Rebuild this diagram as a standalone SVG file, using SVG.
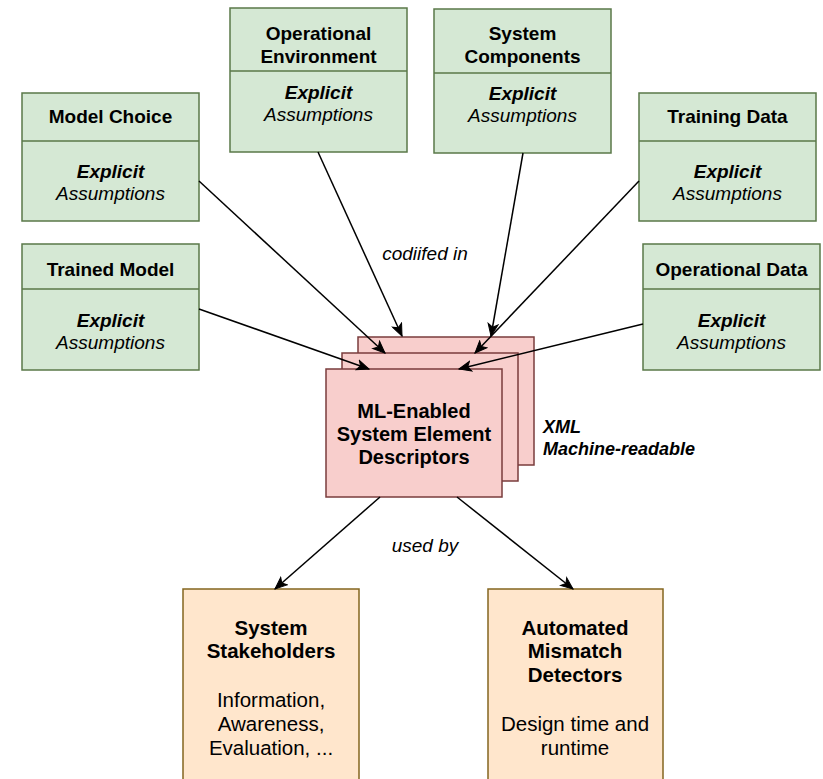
<svg xmlns="http://www.w3.org/2000/svg" width="823" height="779" viewBox="0 0 823 779">
  <style>
    text { font-family: "Liberation Sans", Arial, Helvetica, sans-serif; fill: #000; text-anchor: middle; }
    .green { fill: #d5e8d4; stroke: #5a7848; stroke-width: 1.5; }
    .pink { fill: #f8cecc; stroke: #7a3c3c; stroke-width: 1.5; }
    .orange { fill: #ffe6cc; stroke: #84661f; stroke-width: 1.5; }
    .hdr { font-size: 19px; font-weight: bold; }
    .exp { font-size: 19px; font-weight: bold; font-style: italic; }
    .asm { font-size: 19px; font-style: italic; }
    .title { font-size: 20.5px; font-weight: bold; }
    .body { font-size: 20.5px; }
    .lbl { font-size: 19px; font-style: italic; }
    .edge { fill: none; stroke: #000; stroke-width: 1.5; marker-end: url(#arrow); }
  </style>
  <defs>
    <marker id="arrow" markerUnits="userSpaceOnUse" markerWidth="14" markerHeight="12" refX="13" refY="6" orient="auto">
      <path d="M1,1 L13,6 L1,11 L4,6 Z" fill="#000" stroke="#000" stroke-width="1"/>
    </marker>
  </defs>

  <rect width="823" height="779" fill="#fff"/>

  <!-- assumption sources -->
  <g id="model-choice">
    <rect class="green" x="22" y="93" width="177" height="128"/>
    <line class="green" x1="22" y1="141" x2="199" y2="141"/>
    <text class="hdr" x="110.5" y="123">Model Choice</text>
    <text class="exp" x="110.5" y="178">Explicit</text>
    <text class="asm" x="110.5" y="200">Assumptions</text>
  </g>

  <g id="trained-model">
    <rect class="green" x="22" y="244" width="177" height="126"/>
    <line class="green" x1="22" y1="289" x2="199" y2="289"/>
    <text class="hdr" x="110.5" y="276">Trained Model</text>
    <text class="exp" x="110.5" y="327">Explicit</text>
    <text class="asm" x="110.5" y="349">Assumptions</text>
  </g>

  <g id="operational-environment">
    <rect class="green" x="230" y="8" width="177" height="144"/>
    <line class="green" x1="230" y1="71" x2="407" y2="71"/>
    <text class="hdr" x="318.5" y="40">Operational</text>
    <text class="hdr" x="318.5" y="63">Environment</text>
    <text class="exp" x="318.5" y="99">Explicit</text>
    <text class="asm" x="318.5" y="121">Assumptions</text>
  </g>

  <g id="system-components">
    <rect class="green" x="434" y="9" width="177" height="144"/>
    <line class="green" x1="434" y1="73" x2="611" y2="73"/>
    <text class="hdr" x="522.5" y="40">System</text>
    <text class="hdr" x="522.5" y="63">Components</text>
    <text class="exp" x="522.5" y="100">Explicit</text>
    <text class="asm" x="522.5" y="122">Assumptions</text>
  </g>

  <g id="training-data">
    <rect class="green" x="639" y="93" width="177" height="128"/>
    <line class="green" x1="639" y1="141" x2="816" y2="141"/>
    <text class="hdr" x="727.5" y="123">Training Data</text>
    <text class="exp" x="727.5" y="178">Explicit</text>
    <text class="asm" x="727.5" y="200">Assumptions</text>
  </g>

  <g id="operational-data">
    <rect class="green" x="643" y="244" width="177" height="126"/>
    <line class="green" x1="643" y1="289" x2="820" y2="289"/>
    <text class="hdr" x="731.5" y="276">Operational Data</text>
    <text class="exp" x="731.5" y="327">Explicit</text>
    <text class="asm" x="731.5" y="349">Assumptions</text>
  </g>

  <!-- stacked descriptor documents -->
  <g id="descriptors">
    <rect class="pink" x="358" y="337" width="176" height="128"/>
    <rect class="pink" x="342" y="353" width="176" height="128"/>
    <rect class="pink" x="326" y="369" width="176" height="128"/>
    <text class="title" x="414" y="418" style="font-size:20px">ML-Enabled</text>
    <text class="title" x="414" y="441" style="font-size:20px">System Element</text>
    <text class="title" x="414" y="464" style="font-size:20px">Descriptors</text>
  </g>

  <g id="format-note">
    <text x="543" y="433" style="font-size:18px;font-weight:bold;font-style:italic;text-anchor:start">XML</text>
    <text x="543" y="455" style="font-size:18px;font-weight:bold;font-style:italic;text-anchor:start">Machine-readable</text>
  </g>

  <!-- consumers -->
  <g id="system-stakeholders">
    <rect class="orange" x="183" y="589" width="176" height="200"/>
    <text class="title" x="271" y="635">System</text>
    <text class="title" x="271" y="658">Stakeholders</text>
    <text class="body" x="271" y="707">Information,</text>
    <text class="body" x="271" y="731">Awareness,</text>
    <text class="body" x="271" y="755">Evaluation, ...</text>
  </g>

  <g id="mismatch-detectors">
    <rect class="orange" x="488" y="589" width="175" height="200"/>
    <text class="title" x="575" y="635">Automated</text>
    <text class="title" x="575" y="658">Mismatch</text>
    <text class="title" x="575" y="682">Detectors</text>
    <text class="body" x="575" y="731">Design time and</text>
    <text class="body" x="575" y="755">runtime</text>
  </g>

  <!-- connectors, drawn over the document stack -->
  <g id="connectors">
    <line class="edge" x1="199" y1="181" x2="385" y2="353"/>
    <line class="edge" x1="199" y1="309" x2="369" y2="369"/>
    <line class="edge" x1="318" y1="152" x2="402" y2="336"/>
    <line class="edge" x1="523" y1="153" x2="491" y2="336"/>
    <line class="edge" x1="639" y1="181" x2="475" y2="353"/>
    <line class="edge" x1="643" y1="324" x2="459" y2="369"/>
    <line class="edge" x1="380" y1="497" x2="275" y2="589"/>
    <line class="edge" x1="457" y1="497" x2="573" y2="589"/>
    <text class="lbl" x="425" y="260">codiifed in</text>
    <text class="lbl" x="425" y="552">used by</text>
  </g>
</svg>
